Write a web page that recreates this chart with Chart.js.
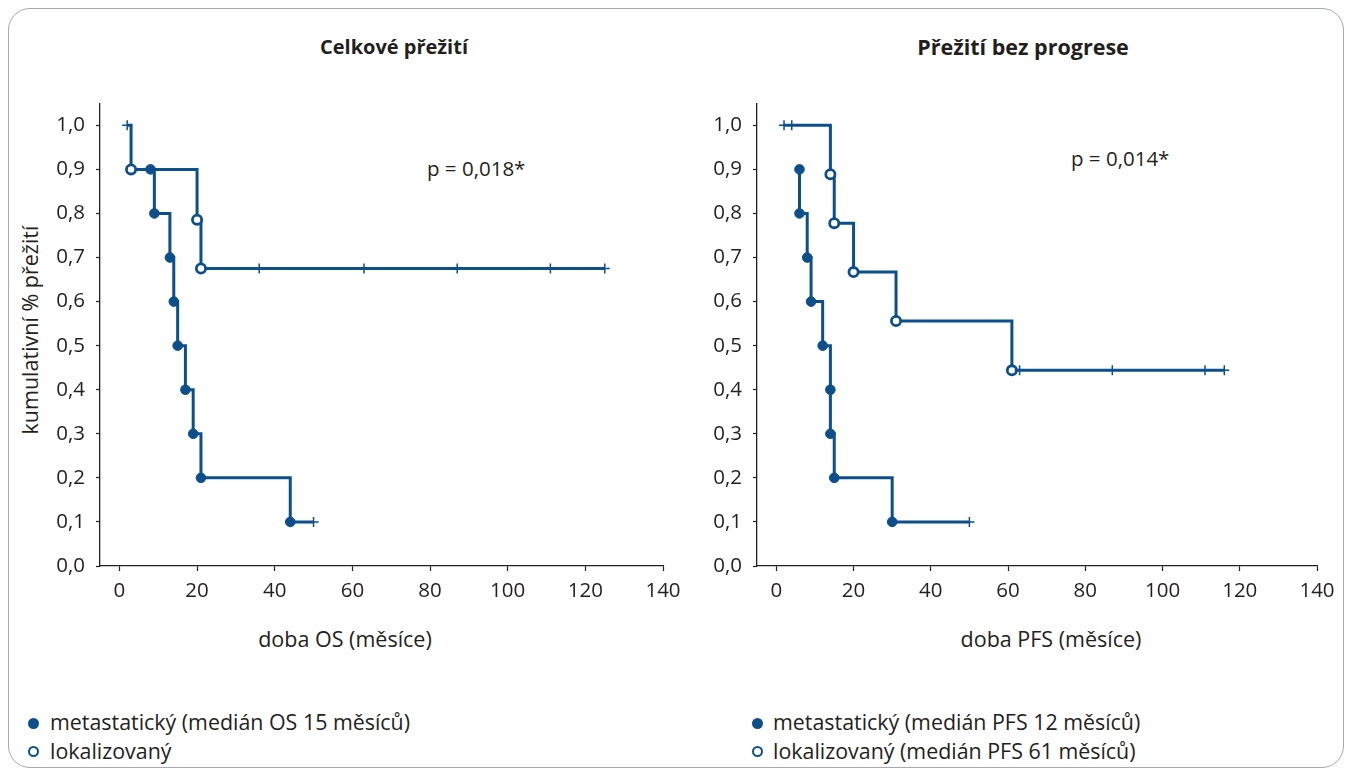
<!DOCTYPE html>
<html>
<head>
<meta charset="utf-8">
<script src="https://cdn.jsdelivr.net/npm/chart.js@4.4.1/dist/chart.umd.min.js"></script>
<style>
  html, body { margin: 0; padding: 0; background: #fff; }
  body { width: 1352px; height: 773px; position: relative; overflow: hidden;
         font-family: "Open Sans", "Noto Sans", sans-serif; color: #231f20; }
  .frame { position: absolute; left: 8px; top: 8px; width: 1334px; height: 758px;
           border: 1.5px solid #a7a9ac; border-radius: 22px; }
  .txt { position: absolute; white-space: nowrap; font-size: 20.5px; line-height: 24px; }
  .axt { font-size: 21.5px; }
  .leg { font-size: 21.4px; }
  .title { font-weight: 700; text-align: center; width: 300px; font-size: 20px; }
  .mk { position: absolute; width: 11px; height: 11px; border-radius: 50%; box-sizing: border-box; }
  .mk.full { background: #0c4f8b; }
  .mk.open { background: #fff; border: 2.8px solid #0c4f8b; }
</style>
</head>
<body>
<div class="frame"></div>

<div class="txt title" style="left:244px; top:35px;">Celkové přežití</div>
<div class="txt title" style="left:873px; top:35px; font-size:21.5px;">Přežití bez progrese</div>

<div class="txt" style="left:427px; top:156px;">p = 0,018*</div>
<div class="txt" style="left:1071px; top:146px;">p = 0,014*</div>

<div class="txt axt" style="left:30px; top:330px; transform: translate(-50%,-50%) rotate(-90deg);">kumulativní % přežití</div>

<div class="txt axt" style="left:345px; top:627px; transform: translateX(-50%);">doba OS (měsíce)</div>
<div class="txt axt" style="left:1051px; top:627px; transform: translateX(-50%);">doba PFS (měsíce)</div>

<div style="position:absolute; left:0; top:80px; width:690px; height:560px;"><canvas id="osChart"></canvas></div>
<div style="position:absolute; left:690px; top:80px; width:662px; height:560px;"><canvas id="pfsChart"></canvas></div>

<span class="mk full" style="left:28px; top:718px;"></span>
<div class="txt leg" style="left:50px; top:710px;">metastatický (medián OS 15 měsíců)</div>
<span class="mk open" style="left:28px; top:746px;"></span>
<div class="txt leg" style="left:50px; top:739px;">lokalizovaný</div>

<span class="mk full" style="left:752px; top:718px;"></span>
<div class="txt leg" style="left:773px; top:710px;">metastatický (medián PFS 12 měsíců)</div>
<span class="mk open" style="left:752px; top:746px;"></span>
<div class="txt leg" style="left:773px; top:739px;">lokalizovaný (medián PFS 61 měsíců)</div>

<script>
// axis ticks
const xTicks = [0, 20, 40, 60, 80, 100, 120, 140];
const yTicks = [0, 0.1, 0.2, 0.3, 0.4, 0.5, 0.6, 0.7, 0.8, 0.9, 1.0];

// Celkové přežití (OS) - months / survival / censored (1 = +)
const osMetTime = [8, 9, 13, 14, 15, 17, 19, 21, 44, 50];
const osMetSurv = [0.9, 0.8, 0.7, 0.6, 0.5, 0.4, 0.3, 0.2, 0.1, 0.1];
const osMetCens = [0, 0, 0, 0, 0, 0, 0, 0, 0, 1];

const osLocTime = [2, 3, 20, 21, 36, 63, 87, 111, 125];
const osLocSurv = [1.0, 0.9, 0.786, 0.675, 0.675, 0.675, 0.675, 0.675, 0.675];
const osLocCens = [1, 0, 0, 0, 1, 1, 1, 1, 1];

// Přežití bez progrese (PFS)
const pfsMetTime = [6, 6, 8, 9, 12, 14, 14, 15, 30, 50];
const pfsMetSurv = [0.9, 0.8, 0.7, 0.6, 0.5, 0.4, 0.3, 0.2, 0.1, 0.1];
const pfsMetCens = [0, 0, 0, 0, 0, 0, 0, 0, 0, 1];

const pfsLocTime = [2, 4, 14, 15, 20, 31, 61, 63, 87, 111, 116];
const pfsLocSurv = [1.0, 1.0, 0.889, 0.778, 0.667, 0.556, 0.444, 0.444, 0.444, 0.444, 0.444];
const pfsLocCens = [1, 1, 0, 0, 0, 0, 0, 1, 1, 1, 1];

const BLUE = '#0c4f8b';
const INK = '#231f20';

function kmSet(times, surv, cens, open) {
    return {
        data: times.map((t, i) => ({ x: t, y: surv[i] })),
        stepped: 'before',
        borderColor: BLUE,
        borderWidth: 3,
        fill: false,
        pointStyle: c => cens[c.dataIndex] ? 'cross' : 'circle',
        pointRadius: c => cens[c.dataIndex] ? 5 : (open ? 4.6 : 4.8),
        pointBorderWidth: c => cens[c.dataIndex] ? 1.5 : (open ? 2.8 : 1),
        pointBackgroundColor: open ? '#fff' : BLUE,
        pointBorderColor: BLUE,
        clip: false
    };
}

function makeChart(id, datasets, yWidth, padRight) {
    const tickFont = { family: '"Open Sans", sans-serif', size: 20.5 };
    return new Chart(document.getElementById(id), {
        type: 'line',
        data: { datasets: datasets },
        options: {
            responsive: true,
            maintainAspectRatio: false,
            animation: false,
            layout: { padding: { top: 22, right: padRight, left: 0, bottom: 0 } },
            plugins: { legend: { display: false }, tooltip: { enabled: false } },
            scales: {
                x: {
                    type: 'linear', min: -5, max: 140,
                    afterBuildTicks: s => { s.ticks = xTicks.map(v => ({ value: v })); },
                    afterFit: s => { s.height = 74; },
                    grid: { drawOnChartArea: false, drawTicks: true, tickLength: 5, tickColor: INK, tickWidth: 1.2 },
                    border: { display: true, color: INK, width: 1.3 },
                    ticks: { color: INK, font: tickFont, padding: 8, maxRotation: 0 }
                },
                y: {
                    type: 'linear', min: 0, max: 1.05,
                    afterBuildTicks: s => { s.ticks = yTicks.map(v => ({ value: v })); },
                    afterFit: s => { s.width = yWidth; },
                    grid: { drawOnChartArea: false, drawTicks: true, tickLength: 4, tickColor: INK, tickWidth: 1.2 },
                    border: { display: true, color: INK, width: 1.3 },
                    ticks: { color: INK, font: tickFont, padding: 11,
                             callback: v => v.toFixed(1).replace('.', ',') }
                }
            }
        }
    });
}

makeChart('osChart', [
    kmSet(osMetTime, osMetSurv, osMetCens, false),
    kmSet(osLocTime, osLocSurv, osLocCens, true)
], 100, 27);

makeChart('pfsChart', [
    kmSet(pfsMetTime, pfsMetSurv, pfsMetCens, false),
    kmSet(pfsLocTime, pfsLocSurv, pfsLocCens, true)
], 67, 35);
</script>
</body>
</html>
